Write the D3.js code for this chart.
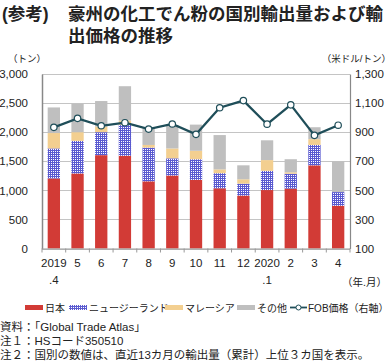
<!DOCTYPE html>
<html>
<head>
<meta charset="utf-8">
<script src="https://cdn.jsdelivr.net/npm/d3@7"></script>
<style>
body { margin: 0; background: #fff; }
svg text { font-family: "Liberation Sans", Arial, "Noto Sans CJK JP", sans-serif; fill: #222; }
</style>
</head>
<body>
<svg id="chart"></svg>
<script>
// chart size
var WIDTH = 391;
var HEIGHT = 361;

var PLOT_LEFT = 42;
var PLOT_RIGHT = 350;
var PLOT_TOP = 74;
var PLOT_BOTTOM = 248.5;

// data
var months = ["2019.4", "5", "6", "7", "8", "9", "10", "11", "12", "2020.1", "2", "3", "4"];
var japan    = [1205, 1290, 1605, 1595, 1155, 1255, 1180, 1035, 910, 1005, 1030, 1430, 735];
var newZealand = [515, 560, 395, 530, 580, 295, 355, 260, 205, 330, 255, 350, 235];
var malaysia = [265, 150, 95, 75, 45, 170, 145, 65, 75, 185, 25, 100, 0];
var others   = [440, 490, 440, 590, 290, 400, 450, 590, 240, 340, 225, 205, 530];
var fobPrice = [933, 995, 944, 965, 921, 956, 885, 1068, 1117, 955, 1088, 878, 948];

var leftTicks = [0, 500, 1000, 1500, 2000, 2500, 3000];
var rightTicks = [100, 300, 500, 700, 900, 1100, 1300];

var seriesNames = ["日本", "ニュージーランド", "マレーシア", "その他"];

var svg = d3.select("#chart").attr("width", WIDTH).attr("height", HEIGHT);

// checkered pattern for NZ
var defs = svg.append("defs");
var pat = defs.append("pattern")
    .attr("id", "nz")
    .attr("patternUnits", "userSpaceOnUse")
    .attr("width", 2).attr("height", 2);
pat.append("rect").attr("width", 2).attr("height", 2).attr("fill", "#ffffff");
pat.append("rect").attr("width", 2).attr("height", 1).attr("fill", "#5a5ad0");
pat.append("rect").attr("width", 1).attr("height", 2).attr("fill", "#5a5ad0");

var fills = ["#d23b36", "url(#nz)", "#f3cf90", "#bfbfbf"];

var x = d3.scaleBand()
    .domain(months)
    .range([PLOT_LEFT, PLOT_RIGHT])
    .paddingInner(0.48)
    .paddingOuter(0.24);

var y = d3.scaleLinear().domain([0, 3000]).range([PLOT_BOTTOM, PLOT_TOP]);
var y2 = d3.scaleLinear().domain([100, 1300]).range([PLOT_BOTTOM, PLOT_TOP]);

// gridlines
svg.append("g")
    .selectAll("line")
    .data(leftTicks)
    .enter()
    .append("line")
    .attr("x1", PLOT_LEFT).attr("x2", PLOT_RIGHT)
    .attr("y1", function(d) { return Math.round(y(d)) + 0.5; })
    .attr("y2", function(d) { return Math.round(y(d)) + 0.5; })
    .attr("stroke", "#c4c4c4")
    .attr("stroke-width", 1.2);

// stacked bars
var table = months.map(function(m, i) {
    return { month: m, a: japan[i], b: newZealand[i], c: malaysia[i], d: others[i] };
});
var stack = d3.stack().keys(["a", "b", "c", "d"])(table);

svg.append("g")
    .selectAll("g")
    .data(stack)
    .enter()
    .append("g")
    .attr("fill", function(d, i) { return fills[i]; })
    .selectAll("rect")
    .data(function(d) { return d; })
    .enter()
    .append("rect")
    .attr("x", function(d) { return x(d.data.month); })
    .attr("width", x.bandwidth())
    .attr("y", function(d) { return y(d[1]); })
    .attr("height", function(d) { return y(d[0]) - y(d[1]); });

// axes
var leftAxis = d3.axisLeft(y).tickValues(leftTicks).tickSize(0).tickPadding(14)
    .tickFormat(d3.format(","));
var gl = svg.append("g").attr("transform", "translate(" + PLOT_LEFT + ",0)").call(leftAxis);
gl.select(".domain").attr("stroke", "#888").attr("stroke-width", 1.5);
gl.selectAll("text").attr("font-size", "11.5px").attr("fill", "#222");

var rightAxis = d3.axisRight(y2).tickValues(rightTicks).tickSize(0).tickPadding(5)
    .tickFormat(d3.format(","));
var gr = svg.append("g").attr("transform", "translate(" + PLOT_RIGHT + ",0)").call(rightAxis);
gr.select(".domain").attr("stroke", "#888").attr("stroke-width", 1.2);
gr.selectAll("text").attr("font-size", "11.5px").attr("fill", "#222");

// bottom axis with ticks between categories
svg.append("line")
    .attr("x1", PLOT_LEFT).attr("x2", PLOT_RIGHT)
    .attr("y1", PLOT_BOTTOM + 0.5).attr("y2", PLOT_BOTTOM + 0.5)
    .attr("stroke", "#999").attr("stroke-width", 1.2);
svg.append("g")
    .selectAll("line")
    .data(d3.range(months.length + 1))
    .enter()
    .append("line")
    .attr("x1", function(i) { return PLOT_LEFT + i * x.step(); })
    .attr("x2", function(i) { return PLOT_LEFT + i * x.step(); })
    .attr("y1", PLOT_BOTTOM).attr("y2", PLOT_BOTTOM + 4)
    .attr("stroke", "#999");

var xl = svg.append("g")
    .selectAll("text")
    .data(months)
    .enter()
    .append("text")
    .attr("text-anchor", "middle")
    .attr("font-size", "11.5px")
    .attr("x", function(d) { return x(d) + x.bandwidth() / 2; })
    .attr("y", 267);
xl.append("tspan").text(function(d) { return d.split(".")[0]; });
xl.filter(function(d) { return d.indexOf(".") > 0; })
    .append("tspan")
    .attr("x", function(d) { return x(d) + x.bandwidth() / 2; })
    .attr("dy", 17)
    .text(function(d) { return "." + d.split(".")[1]; });

// price line
var line = d3.line()
    .x(function(d, i) { return x(months[i]) + x.bandwidth() / 2; })
    .y(function(d) { return y2(d); });
svg.append("path")
    .datum(fobPrice)
    .attr("d", line)
    .attr("fill", "none")
    .attr("stroke", "#1f4e59")
    .attr("stroke-width", 2.2);
svg.append("g")
    .selectAll("circle")
    .data(fobPrice)
    .enter()
    .append("circle")
    .attr("cx", function(d, i) { return x(months[i]) + x.bandwidth() / 2; })
    .attr("cy", function(d) { return y2(d); })
    .attr("r", 3.2)
    .attr("fill", "#fff")
    .attr("stroke", "#1f4e59")
    .attr("stroke-width", 1.2);

// unit labels
svg.append("text").attr("x", 8).attr("y", 62)
    .attr("font-size", "9.5px").text("（トン）");
svg.append("text").attr("x", 391).attr("y", 62)
    .attr("text-anchor", "end").attr("font-size", "9.5px").text("（米ドル/トン）");
svg.append("text").attr("x", 387).attr("y", 286)
    .attr("text-anchor", "end").attr("font-size", "10.5px").text("（年.月）");

// title
svg.append("text").attr("x", 2).attr("y", 20)
    .attr("font-size", "17.5px").attr("font-weight", "bold").text("(参考)");
svg.append("text").attr("x", 68).attr("y", 20)
    .attr("font-size", "17.5px").attr("font-weight", "bold").text("豪州の化工でん粉の国別輸出量および輸");
svg.append("text").attr("x", 68).attr("y", 42)
    .attr("font-size", "17.5px").attr("font-weight", "bold").text("出価格の推移");

// legend
var legendX = [25, 69, 165, 237];
var legend = svg.append("g");
seriesNames.forEach(function(name, i) {
    legend.append("rect")
        .attr("x", legendX[i]).attr("y", 305)
        .attr("width", 18).attr("height", 5)
        .attr("fill", fills[i]);
    legend.append("text")
        .attr("x", legendX[i] + 20).attr("y", 311.5)
        .attr("font-size", "10px")
        .text(name);
});
legend.append("line")
    .attr("x1", 290).attr("x2", 307).attr("y1", 307.5).attr("y2", 307.5)
    .attr("stroke", "#1f4e59").attr("stroke-width", 1.8);
legend.append("circle")
    .attr("cx", 298.5).attr("cy", 307.5).attr("r", 2.5)
    .attr("fill", "#fff").attr("stroke", "#1f4e59");
legend.append("text")
    .attr("x", 308).attr("y", 311.5)
    .attr("font-size", "10px")
    .text("FOB価格（右軸）");

// notes
var notes = ["資料：「Global Trade Atlas」", "注１：HSコード350510",
    "注２：国別の数値は、直近13カ月の輸出量（累計）上位３カ国を表示。"];
svg.append("g")
    .selectAll("text")
    .data(notes)
    .enter()
    .append("text")
    .attr("x", 0)
    .attr("y", function(d, i) { return 331 + i * 14; })
    .attr("font-size", "11.5px")
    .text(function(d) { return d; });
</script>
</body>
</html>
